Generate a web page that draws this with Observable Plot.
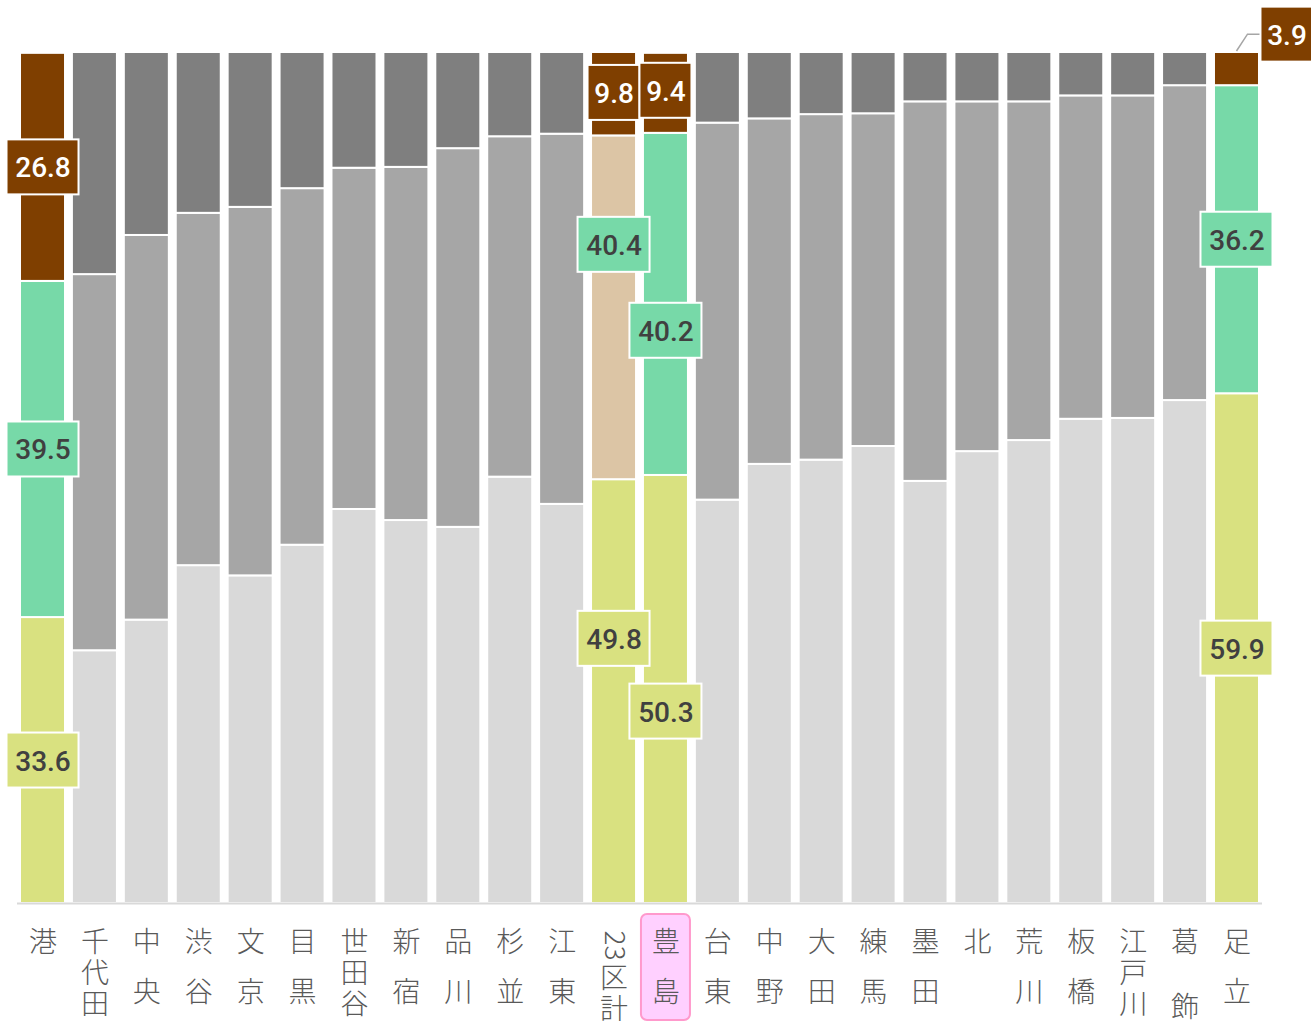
<!DOCTYPE html>
<html><head><meta charset="utf-8">
<script src="https://cdn.jsdelivr.net/npm/d3@7"></script>
<script src="https://cdn.jsdelivr.net/npm/@observablehq/plot@0.6"></script>
<style>body{margin:0;background:#fff;} #chart{width:1311px;height:1021px;}</style>
</head><body><div id="chart"></div>
<script>
// ---- data ----
const names = ["港","千代田","中央","渋谷","文京","目黒","世田谷","新宿","品川","杉並","江東","23区計","豊島","台東","中野","大田","練馬","墨田","北","荒川","板橋","江戸川","葛飾","足立"];
const seg1 = [33.6,29.7,33.3,39.7,38.5,42.1,46.3,45.0,44.2,50.1,46.9,49.8,50.3,47.4,51.6,52.1,53.7,49.6,53.1,54.4,56.9,57.0,59.1,59.9];
const seg2 = [39.5,44.2,45.2,41.4,43.3,41.9,40.1,41.5,44.5,40.0,43.5,40.4,40.2,44.3,40.6,40.6,39.1,44.6,41.1,39.8,38.0,37.9,37.0,36.2];
const seg3 = [26.8,26.1,21.5,18.9,18.2,16.0,13.6,13.5,11.3,9.9,9.6,9.8,9.4,8.3,7.8,7.3,7.2,5.8,5.8,5.8,5.1,5.1,3.9,3.9];
const labeledNames = ["港","23区計","豊島","足立"];
const highlightName = "豊島";

// ---- styles ----
const grayColors = ["#d9d9d9","#a6a6a6","#7f7f7f"];
const accent = ["#d9e180","#77d9a8","#7f3f00"];
const colorMap = {
  "港": accent,
  "23区計": ["#d9e180","#dcc5a5","#7f3f00"],
  "豊島": accent,
  "足立": accent
};
// label nudges (layout only, in y data units)
const labelNudge = {"23区計": [6.2, 7.4, 0.15], "豊島": [-2.6, -3.1, 0.3], "足立": [0, 0, 4.05]};
const labelDx = {"足立": [0, 0, 50]};

const rows = [];
names.forEach((n, i) => {
  [seg1[i], seg2[i], seg3[i]].forEach((v, k) => rows.push({name: n, k, value: v, fill: (colorMap[n] || grayColors)[k]}));
});

const labels = [];
labeledNames.forEach(n => {
  const i = names.indexOf(n);
  const vals = [seg1[i], seg2[i], seg3[i]];
  let cum = 0;
  vals.forEach((v, k) => {
    const mid = cum + v / 2; cum += v;
    labels.push({
      name: n, k, text: v.toFixed(1),
      y: mid + ((labelNudge[n] || [0,0,0])[k]),
      dx: (labelDx[n] || [0,0,0])[k],
      fill: accent[k],
      color: k === 2 ? "#ffffff" : "#404040"
    });
  });
});
const labelsMain = labels.filter(d => d.dx === 0);
const labelsOut = labels.filter(d => d.dx !== 0);

const axisRows = names.map(n => ({name: n, chars: Array.from(n)}));

const FONT = "Roboto, 'Noto Sans', 'Noto Sans CJK JP', sans-serif";
const CJK = "'Noto Sans CJK JP', 'Noto Sans', sans-serif";

function boxMarks(data, extra = {}) {
  const wide = data.filter(d => d.text.length >= 4);
  const narrow = data.filter(d => d.text.length < 4);
  const common = {x: "name", y1: "y", y2: "y", fill: "fill", stroke: "white", strokeWidth: 2, insetTop: -27.5, insetBottom: -27.5, ...extra};
  return [
    Plot.barY(wide, {...common, insetLeft: -13.5, insetRight: -13.5}),
    Plot.barY(narrow, {...common, insetLeft: -3.5, insetRight: -3.5})
  ];
}

const axisCommon = {x: "name", frameAnchor: "bottom", lineAnchor: "top", fontSize: 28, fill: "#595959", fontFamily: CJK, fontWeight: 300};

const chart = Plot.plot({
  width: 1311,
  height: 1021,
  marginTop: 52,
  marginBottom: 118,
  marginLeft: 17,
  marginRight: 49,
  style: {fontFamily: FONT, background: "#fff"},
  x: {domain: names, paddingInner: 0.133, paddingOuter: 0.058, round: false, axis: null},
  y: {domain: [0, 100], axis: null},
  color: {type: "identity"},
  marks: [
    Plot.barY(rows, {x: "name", y: "value", fill: "fill", stroke: "white", strokeWidth: 2}),
    Plot.ruleY([0], {stroke: "#d9d9d9", strokeWidth: 2}),
    // leader line for outside label
    Plot.link(labelsOut, {
      x1: "name", x2: "name", y1: d => 100, y2: "y",
      render(index, scales, values, dimensions) {
        const g = document.createElementNS("http://www.w3.org/2000/svg", "g");
        for (const i of index) {
          const d = labelsOut[i];
          const bw = scales.x.bandwidth ? scales.x.bandwidth() : 0;
          const cx = scales.x(d.name) + bw / 2;
          const y0 = scales.y(100);
          const y1 = scales.y(d.y);
          const p = document.createElementNS("http://www.w3.org/2000/svg", "path");
          p.setAttribute("d", `M${cx},${y0 - 1}L${cx + 11},${y1}L${cx + d.dx - 24},${y1}`);
          p.setAttribute("fill", "none");
          p.setAttribute("stroke", "#a6a6a6");
          p.setAttribute("stroke-width", 1.5);
          g.appendChild(p);
        }
        return g;
      }
    }),
    ...boxMarks(labelsMain),
    ...boxMarks(labelsOut, {dx: 50}),
    Plot.text(labelsMain, {x: "name", y: "y", text: "text", fill: "color", fontSize: 28, fontWeight: 500, dy: 1}),
    Plot.text(labelsOut, {x: "name", y: "y", text: "text", fill: "color", fontSize: 28, fontWeight: 500, dy: 1, dx: 50}),
    // highlight box behind x label
    Plot.barY([{name: highlightName}], {x: "name", y1: d => 0, y2: d => 0, fill: "#ffd0ff", stroke: "#ff99cc", strokeWidth: 2, rx: 6,
      insetTop: 11, insetBottom: -117, insetLeft: -2, insetRight: -2}),
    // x labels (vertical stacked characters)
    Plot.text(axisRows.filter(d => d.chars.length <= 2 && d.name !== "葛飾"), {
      ...axisCommon, dy: 13, text: d => d.chars.join("\n"), lineHeight: 1.79
    }),
    Plot.text(axisRows.filter(d => d.name === "葛飾"), {
      ...axisCommon, dy: 3, text: d => d.chars.join("\n"), lineHeight: 2.3
    }),
    Plot.text(axisRows.filter(d => d.chars.length === 3), {
      ...axisCommon, dy: 26, text: d => d.chars.join("\n"), lineHeight: 1.12
    }),
    // 23区計: rotated numerals then characters
    Plot.text(axisRows.filter(d => d.chars.length === 4), {
      ...axisCommon, lineAnchor: "middle", dy: 42, text: d => d.chars.slice(0, 2).join(""), rotate: 90
    }),
    Plot.text(axisRows.filter(d => d.chars.length === 4), {
      ...axisCommon, dy: 63, text: d => d.chars.slice(2).join("\n"), lineHeight: 1.1
    })
  ]
});
document.getElementById("chart").appendChild(chart);
</script>
</body></html>
